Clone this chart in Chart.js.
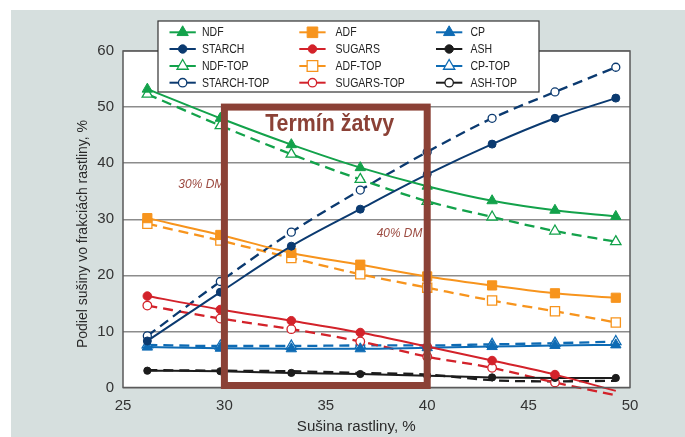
<!DOCTYPE html>
<html>
<head>
<meta charset="utf-8">
<script src="https://cdn.jsdelivr.net/npm/chart.js@4.4.1/dist/chart.umd.min.js"></script>
<style>
  html, body { margin: 0; padding: 0; background: #ffffff; }
  #wrap { position: absolute; left: 11px; top: 10px; width: 674px; height: 427px; }
</style>
</head>
<body>
<div id="wrap"><canvas id="c" width="674" height="427"></canvas></div>
<script>
// ---- data ----
const xValues   = [26.2, 29.8, 33.3, 36.7, 40.0, 43.2, 46.3, 49.3];
const ndf       = [53.2, 48.0, 43.3, 39.2, 35.9, 33.3, 31.6, 30.5];
const ndfTop    = [52.3, 46.7, 41.6, 37.1, 33.2, 30.4, 27.9, 26.0];
const starch    = [8.3, 17.0, 25.2, 31.8, 38.0, 43.4, 48.0, 51.6];
const starchTop = [9.2, 18.9, 27.7, 35.2, 42.0, 48.0, 52.7, 57.1];
const adf       = [30.2, 27.2, 24.0, 21.9, 19.8, 18.2, 16.8, 16.0];
const adfTop    = [29.2, 26.2, 23.1, 20.2, 17.8, 15.5, 13.6, 11.6];
const sugars    = [16.3, 13.9, 11.9, 9.8, 7.3, 4.8, 2.3, -0.6];
const sugarsTop = [14.6, 12.3, 10.4, 8.2, 5.5, 3.5, 0.9, -1.4];
const cp        = [7.2, 7.0, 6.9, 6.9, 7.1, 7.3, 7.5, 7.6];
const cpTop     = [7.6, 7.4, 7.4, 7.5, 7.5, 7.7, 7.9, 8.2];
const ash       = [3.0, 2.9, 2.6, 2.4, 2.1, 1.8, 1.7, 1.7];
const ashTop    = [3.1, 3.0, 2.9, 2.6, 2.3, 1.3, 1.1, 1.2];

const xTicks = [25, 30, 35, 40, 45, 50];
const yTicks = [0, 10, 20, 30, 40, 50, 60];
const harvestWindow = [30, 40];
const harvestTop = 50;
const harvestLabel = 'Termín žatvy';
const dm30Label = '30% DM';
const dm40Label = '40% DM';
const xTitle = 'Sušina rastliny, %';
const yTitle = 'Podiel sušiny vo frakciách rastliny, %';

// ---- styles ----
const C = {
  green: '#13a24b', navy: '#0b3a70', orange: '#f7941d',
  red: '#d3222a', blue: '#0e6bb4', black: '#1c1c1c',
  brown: '#8b4136', grey: '#d6dfde'
};
const FONT = "'Liberation Sans', Arial, sans-serif";

function pts(arr) { return arr.map((v, i) => ({ x: xValues[i], y: v })); }

function ds(label, arr, color, style, filled, dashed, radius, lastHidden, plotRadius) {
  const pr = plotRadius === undefined ? radius : plotRadius;
  const r = arr.map((_, i) => (lastHidden && i === arr.length - 1) ? 0 : pr);
  return {
    label, data: pts(arr),
    borderColor: color,
    backgroundColor: filled ? color : '#ffffff',
    pointBackgroundColor: filled ? color : '#ffffff',
    pointBorderColor: color,
    pointBorderWidth: filled ? 1 : 1.3,
    pointStyle: style,
    pointRadius: r,
    pointHoverRadius: r,
    borderWidth: dashed ? 2.3 : 2,
    borderDash: dashed ? [10, 6] : [],
    cubicInterpolationMode: 'monotone',
    clip: { left: 5, right: 10, top: 5, bottom: 10 },
    fill: false,
    _filled: filled, _dashed: dashed, _legendRadius: radius
  };
}

const datasets = [
  ds('NDF', ndf, C.green, 'triangle', true, false, 6),
  ds('STARCH', starch, C.navy, 'circle', true, false, 4),
  ds('ADF', adf, C.orange, 'rect', true, false, 6.5),
  ds('SUGARS', sugars, C.red, 'circle', true, false, 4.3, true),
  ds('CP', cp, C.blue, 'triangle', true, false, 6),
  ds('ASH', ash, C.black, 'circle', true, false, 3.6),
  ds('NDF-TOP', ndfTop, C.green, 'triangle', false, true, 6),
  ds('STARCH-TOP', starchTop, C.navy, 'circle', false, true, 4),
  ds('ADF-TOP', adfTop, C.orange, 'rect', false, true, 6.5),
  ds('SUGARS-TOP', sugarsTop, C.red, 'circle', false, true, 4.3, true),
  ds('CP-TOP', cpTop, C.blue, 'triangle', false, true, 6),
  ds('ASH-TOP', ashTop, C.black, 'circle', false, true, 4, false, 0)
];

const legendColumns = [
  ['NDF', 'STARCH', 'NDF-TOP', 'STARCH-TOP'],
  ['ADF', 'SUGARS', 'ADF-TOP', 'SUGARS-TOP'],
  ['CP', 'ASH', 'CP-TOP', 'ASH-TOP']
];

// ---- helpers ----
function fitText(ctx, text, x, y, font, width, align) {
  ctx.save();
  ctx.font = font;
  const w = ctx.measureText(text).width;
  const s = width ? width / w : 1;
  let x0 = x;
  if (align === 'center') x0 = x - (w * s) / 2;
  else if (align === 'right') x0 = x - w * s;
  ctx.translate(x0, y);
  ctx.scale(s, 1);
  ctx.textAlign = 'left';
  ctx.fillText(text, 0, 0);
  ctx.restore();
}

function marker(ctx, style, x, y, r, fill, stroke, bw) {
  ctx.save();
  ctx.beginPath();
  if (style === 'circle') {
    ctx.arc(x, y, r, 0, Math.PI * 2);
  } else if (style === 'rect') {
    const s = Math.SQRT1_2 * r;
    ctx.rect(x - s, y - s, 2 * s, 2 * s);
  } else if (style === 'triangle') {
    let a = 0;
    ctx.moveTo(x + Math.sin(a) * r, y - Math.cos(a) * r);
    a += 2 * Math.PI / 3;
    ctx.lineTo(x + Math.sin(a) * r, y - Math.cos(a) * r);
    a += 2 * Math.PI / 3;
    ctx.lineTo(x + Math.sin(a) * r, y - Math.cos(a) * r);
    ctx.closePath();
  }
  ctx.fillStyle = fill;
  ctx.fill();
  ctx.lineWidth = bw;
  ctx.strokeStyle = stroke;
  ctx.stroke();
  ctx.restore();
}

const OX = 11, OY = 10; // page offset of the canvas

const bgPlugin = {
  id: 'bg',
  beforeDraw(chart) {
    const { ctx, chartArea: a } = chart;
    ctx.save();
    ctx.fillStyle = C.grey;
    ctx.fillRect(0, 0, chart.width, chart.height);
    ctx.fillStyle = '#ffffff';
    ctx.fillRect(a.left, a.top, a.right - a.left, a.bottom - a.top);
    ctx.restore();
  }
};

const overlayPlugin = {
  id: 'overlay',
  afterDatasetsDraw(chart) {
    const { ctx, chartArea: a } = chart;
    const xs = chart.scales.x, ys = chart.scales.y;

    // plot border
    ctx.save();
    ctx.strokeStyle = '#5a5a5a';
    ctx.lineWidth = 1.5;
    ctx.strokeRect(a.left, a.top, a.right - a.left, a.bottom - a.top);
    ctx.restore();

    // DM labels
    ctx.save();
    ctx.fillStyle = '#9c4a40';
    fitText(ctx, dm30Label, 178.3 - OX, 187.5 - OY, "italic 13px " + FONT, 46, 'left');
    fitText(ctx, dm40Label, 376.7 - OX, 236.7 - OY, "italic 13px " + FONT, 45.6, 'left');
    ctx.restore();

    // harvest window rectangle
    const L = xs.getPixelForValue(harvestWindow[0]);
    const R = xs.getPixelForValue(harvestWindow[1]);
    const T = ys.getPixelForValue(harvestTop);
    const B = ys.getPixelForValue(0) - 2;
    ctx.save();
    ctx.strokeStyle = C.brown;
    ctx.lineWidth = 7;
    ctx.lineJoin = 'miter';
    ctx.strokeRect(L, T, R - L, B - T);
    ctx.fillStyle = C.brown;
    fitText(ctx, harvestLabel, (265 + 394.3) / 2 - OX, 130.5 - OY, "bold 23px " + FONT, 129, 'center');
    ctx.restore();

    // legend box
    const bx = 158 - OX, by = 21 - OY, bw = 539 - 158, bh = 92 - 21;
    ctx.save();
    ctx.fillStyle = '#ffffff';
    ctx.fillRect(bx, by, bw, bh);
    ctx.strokeStyle = '#333333';
    ctx.lineWidth = 1.2;
    ctx.strokeRect(bx, by, bw, bh);
    const rowsY = [32.3, 49, 66, 82.7];
    const colLine = [[169.5, 195.8], [299.3, 325.6], [436, 462.3]];
    const colText = [202, 335.6, 470.5];
    legendColumns.forEach((col, ci) => {
      col.forEach((name, ri) => {
        const d = datasets.find(q => q.label === name);
        const y = rowsY[ri] - OY;
        const x0 = colLine[ci][0] - OX, x1 = colLine[ci][1] - OX;
        ctx.beginPath();
        ctx.strokeStyle = d.borderColor;
        ctx.lineWidth = 2;
        ctx.moveTo(x0, y); ctx.lineTo(x1, y);
        ctx.stroke();
        const rr = d.pointStyle === 'circle' ? 4.2 : (d.pointStyle === 'rect' ? 7.5 : 6.5);
        marker(ctx, d.pointStyle, (x0 + x1) / 2, y, rr,
               d._filled ? d.borderColor : '#ffffff', d.borderColor, d._filled ? 1 : 1.3);
        ctx.fillStyle = '#222222';
        ctx.font = "12.5px " + FONT;
        ctx.textBaseline = 'middle';
        ctx.save();
        ctx.translate(colText[ci] - OX, y + 0.5);
        ctx.scale(0.84, 1);
        ctx.fillText(name, 0, 0);
        ctx.restore();
      });
    });
    ctx.restore();

    // axis titles
    ctx.save();
    ctx.fillStyle = '#2a2a2a';
    ctx.textBaseline = 'alphabetic';
    fitText(ctx, xTitle, 356.3 - OX, 431 - OY, "15.5px " + FONT, 119, 'center');
    ctx.translate(87 - OX, 234 - OY);
    ctx.rotate(-Math.PI / 2);
    fitText(ctx, yTitle, 0, 0, "15.5px " + FONT, 228, 'center');
    ctx.restore();
  }
};

new Chart(document.getElementById('c'), {
  type: 'line',
  data: { datasets },
  options: {
    responsive: false,
    devicePixelRatio: 1,
    animation: false,
    events: [],
    layout: { padding: { left: 0, top: 41, right: 55, bottom: 0 } },
    plugins: { legend: { display: false }, tooltip: { enabled: false } },
    scales: {
      x: {
        type: 'linear', min: xTicks[0], max: xTicks[xTicks.length - 1],
        afterBuildTicks(s) { s.ticks = xTicks.map(v => ({ value: v })); },
        afterFit(s) { s.height = 49.5; },
        grid: { display: false, drawTicks: false },
        border: { display: false },
        ticks: { padding: 9, color: '#333333', font: { family: FONT, size: 15 } }
      },
      y: {
        type: 'linear', min: yTicks[0], max: yTicks[yTicks.length - 1],
        afterBuildTicks(s) { s.ticks = yTicks.map(v => ({ value: v })); },
        afterFit(s) { s.width = 112; },
        grid: { color: '#8c8c8c', lineWidth: 1.5, drawTicks: false },
        border: { display: false },
        ticks: { padding: 9, color: '#333333', font: { family: FONT, size: 15 } }
      }
    }
  },
  plugins: [bgPlugin, overlayPlugin]
});
</script>
</body>
</html>
